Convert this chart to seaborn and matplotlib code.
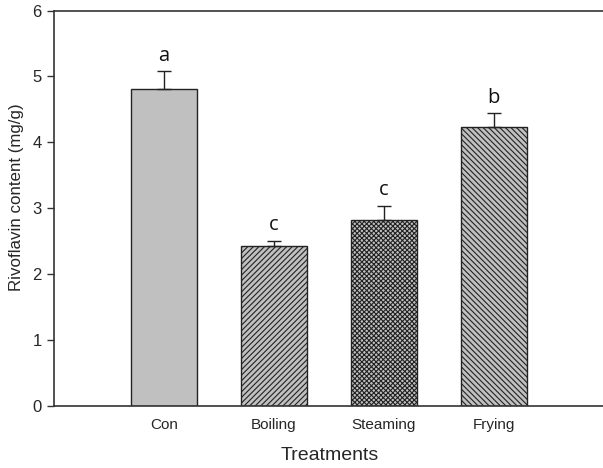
import pandas as pd
import matplotlib
matplotlib.use("Agg")
import matplotlib.pyplot as plt
import seaborn as sns

# data
treatments = ["Con", "Boiling", "Steaming", "Frying"]
means = [4.81, 2.43, 2.82, 4.23]
errors = [0.27, 0.08, 0.22, 0.21]
letters = ["a", "c", "c", "b"]
hatches = ["", "//////", "xxxxxxx", "\\\\\\\\\\\\"]

sns.set_style("white")
plt.rcParams["font.family"] = ["Liberation Sans", "DejaVu Sans"]
plt.rcParams["hatch.linewidth"] = 0.8

df = pd.DataFrame({"treatment": treatments, "content": means})

fig = plt.figure(figsize=(6.03, 4.68), dpi=100)
ax = fig.add_axes([54 / 603, 1 - 406 / 468, 1 - 54 / 603 + 0.01, (406 - 10.5) / 468])

sns.barplot(data=df, x="treatment", y="content", color="#c0c0c0",
            width=0.6, saturation=1, edgecolor="#222222", linewidth=1.0,
            errorbar=None, ax=ax)

for patch, h in zip(ax.patches, hatches):
    patch.set_hatch(h)
    patch.set_facecolor("#c0c0c0")

xs = range(len(treatments))
ax.errorbar(xs, means, yerr=[[0] * len(errors), errors], fmt="none",
            ecolor="#222222", elinewidth=1.0, capsize=5, capthick=1.0)

for x, m, e, lab in zip(xs, means, errors, letters):
    ax.text(x, m + e + 0.08, lab, ha="center", va="bottom",
            fontsize=14.5, family=["Open Sans", "DejaVu Sans"], color="#111111")

ax.set_xlim(-1.0, 4.05)
ax.set_ylim(0, 6)
ax.set_yticks(range(0, 7))
ax.set_xlabel("Treatments", fontsize=14, va="center")
ax.set_ylabel("Rivoflavin content (mg/g)", fontsize=12.2, va="center")
ax.xaxis.set_label_coords(0.497, -0.124)
ax.yaxis.set_label_coords(-0.068, 0.528)
ax.tick_params(axis="y", left=True, direction="out", length=5, width=1,
               labelsize=12, pad=4, color="#333333")
ax.tick_params(axis="x", bottom=False, labelsize=11, pad=5)

for s in ["left", "top", "bottom"]:
    ax.spines[s].set_color("#333333")
    ax.spines[s].set_linewidth(1.2)
ax.spines["right"].set_visible(False)

fig.savefig("out.png", dpi=100)
